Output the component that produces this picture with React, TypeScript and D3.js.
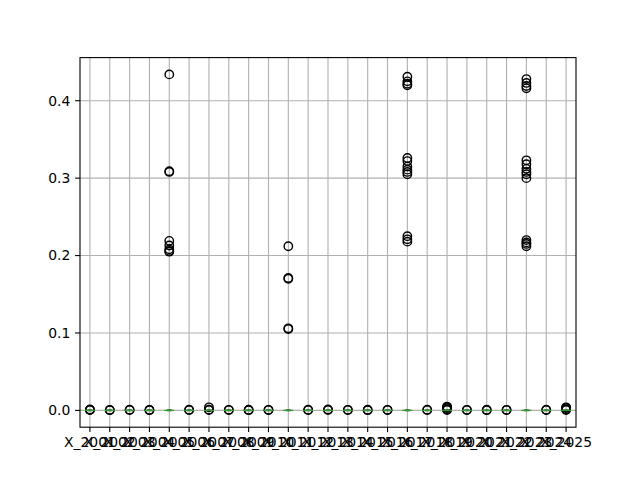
import React from 'react';
import * as d3 from 'd3';

// column names (x tick labels)
const columns = d3.range(2001, 2026).map(yr => `X_${yr}`);

// box stats per column: the boxes are collapsed at zero
const q1 = columns.map(() => 0);
const medians = columns.map(() => 0);
const q3 = columns.map(() => 0);
const whiskLo = columns.map(() => 0);
const whiskHi = columns.map(() => 0);

// outliers per column (fliers)
const fliers: number[][] = [
  [0.0004, 0.0008, 0.0012],
  [0.0003, 0.0007],
  [0.0004, 0.0009],
  [0.0003, 0.0008],
  [0.434, 0.309, 0.308, 0.219, 0.213, 0.208, 0.206, 0.205],
  [0.0004, 0.0009],
  [0.0005, 0.001, 0.004],
  [0.0004, 0.0008],
  [0.0003, 0.0009],
  [0.0004, 0.0008],
  [0.212, 0.171, 0.17, 0.106, 0.105],
  [0.0004, 0.0009],
  [0.0005, 0.0012],
  [0.0004, 0.0008],
  [0.0003, 0.0009],
  [0.0004, 0.0008],
  [0.431, 0.425, 0.422, 0.42, 0.326, 0.322, 0.315, 0.311, 0.308, 0.305, 0.225, 0.221, 0.218],
  [0.0004, 0.0009],
  [0.0005, 0.0015, 0.003, 0.004, 0.005],
  [0.0004, 0.0008],
  [0.0003, 0.0009],
  [0.0004, 0.0008],
  [0.428, 0.423, 0.419, 0.416, 0.323, 0.318, 0.312, 0.308, 0.305, 0.3, 0.22, 0.217, 0.215, 0.212],
  [0.0004, 0.0009],
  [0.0005, 0.0015, 0.003, 0.004],
];

const yTicks = [0, 0.1, 0.2, 0.3, 0.4];

const W = 640;
const H = 480;
const L = 80, R = 576, T = 57.6, B = 427.2;

const App: React.FC = () => {
  const x = d3.scaleLinear().domain([0.5, columns.length + 0.5]).range([L, R]);
  const allVals = fliers.flat().concat([0]);
  const lo = d3.min(allVals)!;
  const hi = d3.max(allVals)!;
  const pad = (hi - lo) * 0.05;
  const y = d3.scaleLinear().domain([lo - pad, hi + pad]).range([B, T]);
  const boxW = (x(1.25) - x(0.75));
  const font = 'DejaVu Sans, sans-serif';

  return (
    <svg width={W} height={H} style={{ position: 'absolute', left: 0, top: 0 }} fontFamily={font}>
      <rect width={W} height={H} fill="white" />
      {/* grid */}
      {columns.map((c, i) => (
        <line key={'gx' + c} x1={x(i + 1)} x2={x(i + 1)} y1={T} y2={B} stroke="#b0b0b0" strokeWidth={1.1} />
      ))}
      {yTicks.map(t => (
        <line key={'gy' + t} x1={L} x2={R} y1={y(t)} y2={y(t)} stroke="#b0b0b0" strokeWidth={1.1} />
      ))}
      {/* boxes */}
      {columns.map((c, i) => {
        const cx = x(i + 1);
        return (
          <g key={'b' + c}>
            <line x1={cx} x2={cx} y1={y(whiskLo[i])} y2={y(q1[i])} stroke="#000" strokeWidth={1.4} />
            <line x1={cx} x2={cx} y1={y(q3[i])} y2={y(whiskHi[i])} stroke="#000" strokeWidth={1.4} />
            <line x1={cx - boxW / 4} x2={cx + boxW / 4} y1={y(whiskLo[i])} y2={y(whiskLo[i])} stroke="#000" strokeWidth={1.4} />
            <line x1={cx - boxW / 4} x2={cx + boxW / 4} y1={y(whiskHi[i])} y2={y(whiskHi[i])} stroke="#000" strokeWidth={1.4} />
            <rect x={cx - boxW / 2} width={boxW} y={y(q3[i])} height={Math.max(0, y(q1[i]) - y(q3[i]))} fill="none" stroke="#000" strokeWidth={1.4} />
            {fliers[i].map((v, k) => (
              <circle key={k} cx={cx} cy={y(v)} r={4.2} fill="none" stroke="#000" strokeWidth={1.4} />
            ))}
            <line x1={cx - boxW / 2} x2={cx + boxW / 2} y1={y(medians[i])} y2={y(medians[i])} stroke="#2ca02c" strokeWidth={1.4} />
          </g>
        );
      })}
      {/* axes frame */}
      <rect x={L} y={T} width={R - L} height={B - T} fill="none" stroke="#000" strokeWidth={1.1} />
      {/* x ticks */}
      {columns.map((c, i) => (
        <g key={'xt' + c} transform={`translate(${x(i + 1)},${B})`}>
          <line y2={4.9} stroke="#000" strokeWidth={1.1} />
          <text y={9.7} dy="0.76em" textAnchor="middle" fontSize={13.9} fill="#000">{c}</text>
        </g>
      ))}
      {/* y ticks */}
      {yTicks.map(t => (
        <g key={'yt' + t} transform={`translate(${L},${y(t)})`}>
          <line x2={-4.9} stroke="#000" strokeWidth={1.1} />
          <text x={-9.7} dy="0.35em" textAnchor="end" fontSize={13.9} fill="#000">{d3.format('.1f')(t)}</text>
        </g>
      ))}
    </svg>
  );
};

export default App;
